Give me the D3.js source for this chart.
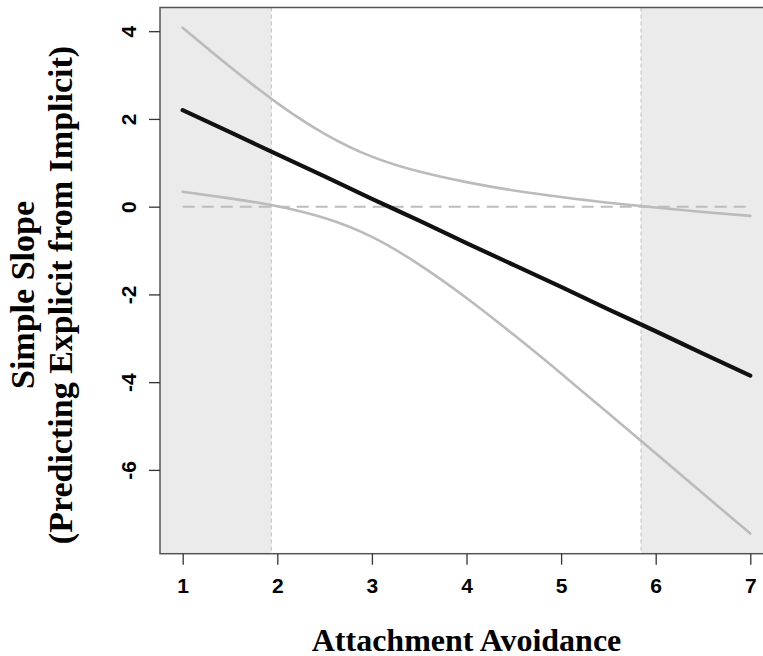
<!DOCTYPE html>
<html>
<head>
<meta charset="utf-8">
<script src="https://cdn.jsdelivr.net/npm/d3@7"></script>
<style>
  html, body { margin: 0; padding: 0; background: #fff; }
  svg { display: block; }
</style>
</head>
<body>
<svg id="chart" width="763" height="656"></svg>
<script>
// ---- Data ----
const avoidance = [1, 1.5, 2, 2.5, 3, 3.5, 4, 4.5, 5, 5.5, 6, 6.5, 7];
const simpleSlope = [2.20, 1.70, 1.19, 0.69, 0.18, -0.32, -0.83, -1.33, -1.83, -2.34, -2.84, -3.35, -3.85];
const upperCI = [4.08, 3.19, 2.36, 1.66, 1.14, 0.80, 0.56, 0.37, 0.22, 0.09, -0.02, -0.12, -0.21];
const lowerCI = [0.34, 0.19, 0.01, -0.26, -0.69, -1.32, -2.08, -2.92, -3.80, -4.71, -5.62, -6.54, -7.45];
const jnBounds = [1.937, 5.845];
const xTicks = [1, 2, 3, 4, 5, 6, 7];
const yTicks = [4, 2, 0, -2, -4, -6];
const xTitle = "Attachment Avoidance";
const yTitleLines = ["Simple Slope", "(Predicting Explicit from Implicit)"];

// ---- Layout ----
const plotLeft = 160, plotRight = 773, plotTop = 7.5, plotBottom = 553.7;
const x = d3.scaleLinear().domain([0.76, 7.24]).range([plotLeft, plotRight]);
const y = d3.scaleLinear().domain([-7.91, 4.54]).range([plotBottom, plotTop]);

const svg = d3.select("#chart");

svg.append("defs").append("clipPath").attr("id", "clip")
  .append("rect").attr("x", plotLeft).attr("y", plotTop)
  .attr("width", plotRight - plotLeft).attr("height", plotBottom - plotTop);

const g = svg.append("g").attr("clip-path", "url(#clip)");

// shaded non-significance regions
g.append("rect")
  .attr("x", plotLeft).attr("y", plotTop)
  .attr("width", x(jnBounds[0]) - plotLeft).attr("height", plotBottom - plotTop)
  .attr("fill", "#ebebeb");
g.append("rect")
  .attr("x", x(jnBounds[1])).attr("y", plotTop)
  .attr("width", plotRight - x(jnBounds[1])).attr("height", plotBottom - plotTop)
  .attr("fill", "#ebebeb");

// vertical dashed J-N lines
jnBounds.forEach(b => {
  g.append("line")
    .attr("x1", x(b)).attr("x2", x(b))
    .attr("y1", plotTop).attr("y2", plotBottom)
    .attr("stroke", "#c8c8c8").attr("stroke-width", 1.2)
    .attr("stroke-dasharray", "4,3");
});

// zero reference line
g.append("line")
  .attr("x1", x(xTicks[0])).attr("x2", x(xTicks[xTicks.length - 1]))
  .attr("y1", y(0)).attr("y2", y(0))
  .attr("stroke", "#bdbdbd").attr("stroke-width", 2)
  .attr("stroke-dasharray", "12,7");

const line = (vals) => d3.line()
  .x((d, i) => x(avoidance[i]))
  .y(d => y(d))
  .curve(d3.curveNatural)(vals);

[upperCI, lowerCI].forEach(vals => {
  g.append("path").attr("d", line(vals))
    .attr("fill", "none").attr("stroke", "#bbbbbb")
    .attr("stroke-width", 2.6).attr("stroke-linecap", "round");
});

g.append("path").attr("d", line(simpleSlope))
  .attr("fill", "none").attr("stroke", "#111")
  .attr("stroke-width", 4.2).attr("stroke-linecap", "round");

// plot box (left, top, bottom visible; right beyond the window)
svg.append("rect")
  .attr("x", plotLeft).attr("y", plotTop)
  .attr("width", plotRight - plotLeft).attr("height", plotBottom - plotTop)
  .attr("fill", "none").attr("stroke", "#555").attr("stroke-width", 1.5);

// ---- Axes ----
const fmt = d => String(d);
const xAxis = svg.append("g").attr("transform", `translate(0,${plotBottom})`)
  .call(d3.axisBottom(x).tickValues(xTicks).tickSize(11).tickSizeOuter(0).tickFormat(fmt));
xAxis.select(".domain").remove();
xAxis.selectAll(".tick line").attr("stroke", "#333").attr("stroke-width", 1.3);
xAxis.selectAll(".tick text")
  .attr("font-family", "'Liberation Sans', Arial, sans-serif")
  .attr("font-weight", "bold").attr("font-size", 21).attr("fill", "#000")
  .attr("dy", null).attr("y", 39.5);

const yAxis = svg.append("g").attr("transform", `translate(${plotLeft},0)`)
  .call(d3.axisLeft(y).tickValues(yTicks).tickSize(11).tickSizeOuter(0).tickFormat(fmt));
yAxis.select(".domain").remove();
yAxis.selectAll(".tick line").attr("stroke", "#333").attr("stroke-width", 1.3);
yAxis.selectAll(".tick text")
  .attr("font-family", "'Liberation Sans', Arial, sans-serif")
  .attr("font-weight", "bold").attr("font-size", 21).attr("fill", "#000")
  .attr("x", null).attr("dy", null)
  .attr("text-anchor", "middle")
  .attr("transform", "translate(-24.5,0) rotate(-90)");

// ---- Titles ----
svg.append("text")
  .attr("x", (plotLeft + plotRight) / 2).attr("y", 650.5)
  .attr("text-anchor", "middle")
  .attr("font-family", "'Liberation Serif', 'Times New Roman', serif")
  .attr("font-weight", "bold").attr("font-size", 32)
  .text(xTitle);

const yMid = 295;
const yBaselines = [34, 72];
yTitleLines.forEach((t, i) => {
  svg.append("text")
    .attr("transform", `translate(${yBaselines[i]},${yMid}) rotate(-90)`)
    .attr("text-anchor", "middle")
    .attr("font-family", "'Liberation Serif', 'Times New Roman', serif")
    .attr("font-weight", "bold").attr("font-size", 34)
    .text(t);
});
</script>
</body>
</html>
